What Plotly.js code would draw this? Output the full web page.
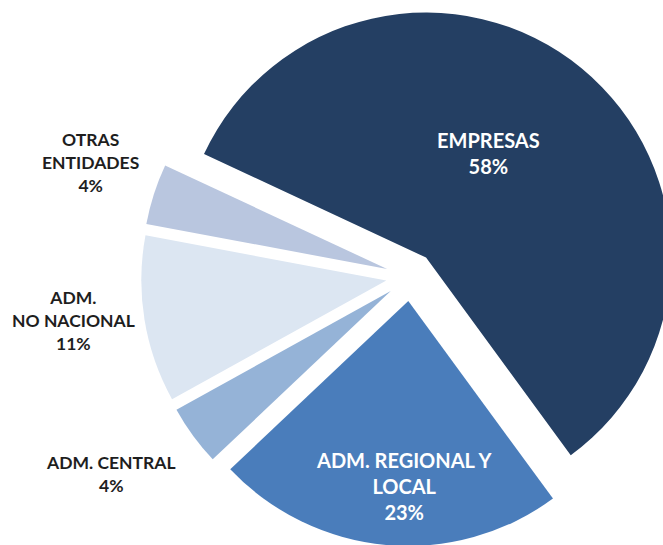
<!DOCTYPE html>
<html><head><meta charset="utf-8">
<script src="https://cdn.plot.ly/plotly-3.0.1.min.js"></script>
<style>
html,body{margin:0;padding:0;overflow:hidden;background:#fff;width:663px;height:545px}
#chart{width:821px;height:553px}
</style>
</head><body><div id="chart"></div>
<script>
// Data
const categories = ["EMPRESAS", "ADM. REGIONAL Y LOCAL", "ADM. CENTRAL", "ADM. NO NACIONAL", "OTRAS ENTIDADES"];
const labelLines = ["EMPRESAS", "ADM. REGIONAL Y<br>LOCAL", "ADM. CENTRAL", "ADM.<br>NO NACIONAL", "OTRAS<br>ENTIDADES"];
const shares = [58, 23, 4, 11, 4];

// Styles
const colors = ["#243f63", "#4a7dbb", "#95b3d7", "#dce6f2", "#b9c6df"];
const labelColors = ["#ffffff", "#ffffff", "#1e1e1e", "#1e1e1e", "#1e1e1e"];
const labelSizes = [20, 20, 17.5, 17.5, 17.5];
const labelPx = [[488, 153], [404, 486], [111, 474], [73, 320], [90, 163]];

const W = 821, H = 553, MT = 7, MB = 7;
const PH = H - MT - MB;

const annotations = categories.map((c, i) => ({
  xref: 'paper', yref: 'paper',
  x: labelPx[i][0] / W,
  y: 1 - (labelPx[i][1] - MT) / PH,
  xanchor: 'center', yanchor: 'middle',
  text: labelLines[i] + '<br>' + shares[i] + '%',
  showarrow: false,
  align: 'center',
  font: {family: 'Lato, "Open Sans", sans-serif', size: labelSizes[i], color: labelColors[i], weight: 700}
}));

const trace = {
  type: 'pie',
  labels: categories,
  values: shares,
  sort: false,
  direction: 'clockwise',
  rotation: -65,
  pull: [0.1, 0.1, 0.1, 0.1, 0.1],
  marker: {colors: colors, line: {width: 0}},
  textinfo: 'none',
  hoverinfo: 'label+percent',
  domain: {x: [0, 1], y: [0, 1]}
};

const layout = {
  width: W, height: H,
  margin: {l: 0, r: 0, t: MT, b: MB, pad: 0},
  showlegend: false,
  paper_bgcolor: '#ffffff',
  plot_bgcolor: '#ffffff',
  annotations: annotations
};

Plotly.newPlot('chart', [trace], layout, {displayModeBar: false, staticPlot: true});
</script>
</body></html>
